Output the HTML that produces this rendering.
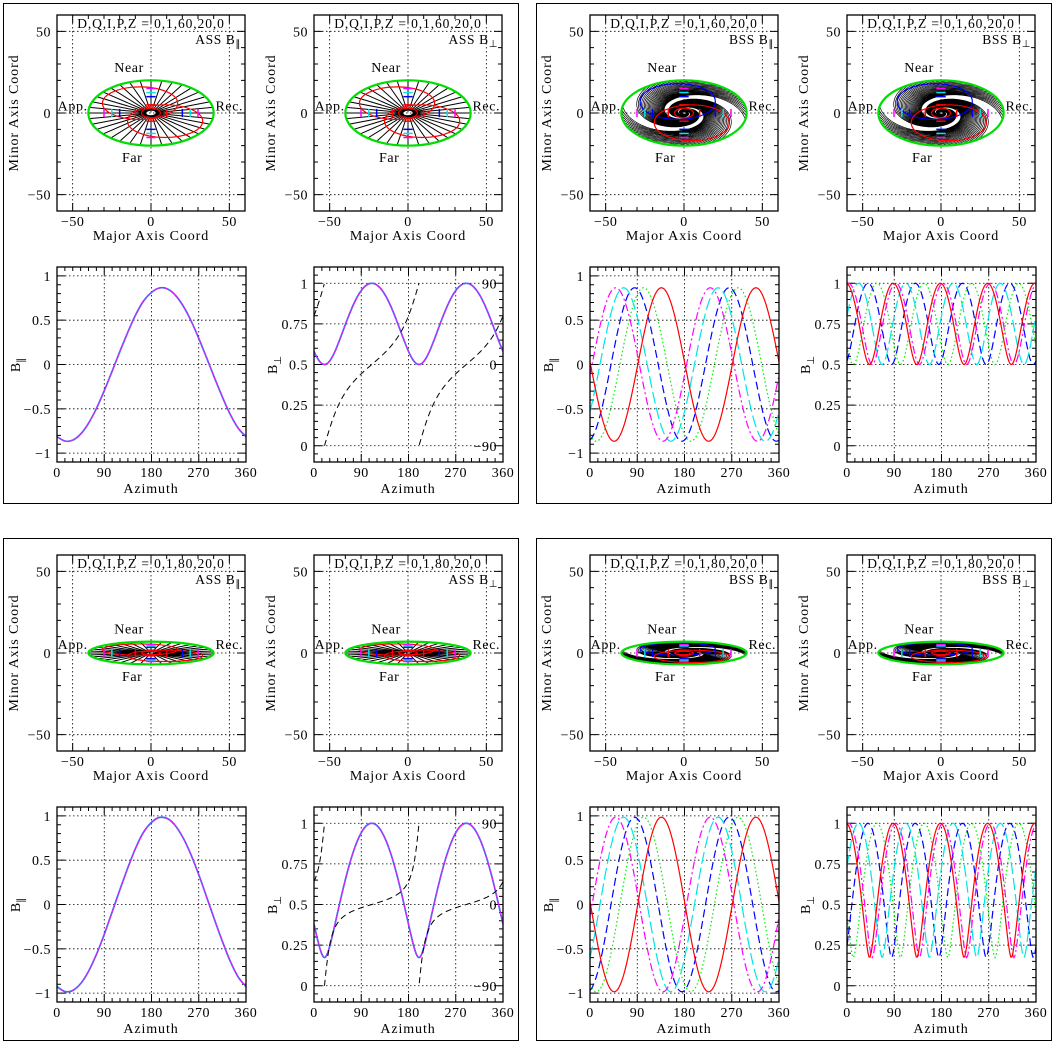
<!DOCTYPE html>
<html><head><meta charset="utf-8"><title>Magnetic field models</title>
<style>
html,body{margin:0;padding:0;background:#fff;}
svg{display:block;}
text{font-family:"Liberation Serif",serif;fill:#000;}
</style></head>
<body>
<svg id="chart" xmlns="http://www.w3.org/2000/svg" width="1053" height="1043" viewBox="0 0 1053 1043"></svg>
<script>
// ---- data ----
const inclinations = [60, 60, 80, 80];
const modelTypes = ['ASS', 'BSS', 'ASS', 'BSS'];
const azimuthTicks = [0, 90, 180, 270, 360];
const azimuthTickLabels = ['0', '90', '180', '270', '360'];
const bParTicks = [1, 0.5, 0, -0.5, -1];
const bParTickLabels = ['1', '0.5', '0', '\u22120.5', '\u22121'];
const bPerpTicks = [1, 0.75, 0.5, 0.25, 0];
const bPerpTickLabels = ['1', '0.75', '0.5', '0.25', '0'];
const angleTickLabels = ['90', '0', '\u221290'];
const mapTicks = [-50, 0, 50];
const mapTickLabels = ['\u221250', '0', '50'];
// ASS B-parallel samples every 15 deg (inclination 60, 80)
const assAz = [0,15,30,45,60,75,90,105,120,135,150,165,180,195,210,225,240,255,270,285,300,315,330,345,360];
const assParI60 = [-0.814,-0.863,-0.853,-0.785,-0.663,-0.497,-0.296,-0.075,0.150,0.366,0.563,0.718,0.814,0.863,0.853,0.785,0.663,0.497,0.296,0.075,-0.150,-0.366,-0.563,-0.718,-0.814];
const assParI80 = [-0.926,-0.982,-0.970,-0.893,-0.754,-0.565,-0.337,-0.085,0.171,0.416,0.640,0.817,0.926,0.982,0.970,0.893,0.754,0.565,0.337,0.085,-0.171,-0.416,-0.640,-0.817,-0.926];
// ASS B-perp: minimum azimuth (deg)
const assPerpMinAz = [20, 20];
// BSS series (red, green, blue, cyan, magenta): B-par peak azimuths, B-perp peak azimuths
const bssSeriesColors = ['#ff0000', '#00ee00', '#0000ff', '#00e5e5', '#ff00ff'];
const bssSeriesNames = ['red', 'green', 'blue', 'cyan', 'magenta'];
const bssParPeaks = [136, 102, 85, 64, 49];
const bssPerpPeaks = [88, 57, 40, 22, 3];

const NS = 'http://www.w3.org/2000/svg';
const svg = document.getElementById('chart');
function mk(tag, parent, attrs) {
  const e = document.createElementNS(NS, tag);
  for (const k in attrs) e.setAttribute(k, attrs[k]);
  parent.appendChild(e);
  return e;
}
function txt(parent, x, y, s, size, anchor, ls) {
  const t = mk('text', parent, {x: x, y: y, 'font-size': size, 'text-anchor': anchor || 'middle'});
  if (ls) t.setAttribute('letter-spacing', ls);
  t.textContent = s;
  return t;
}
function smoothD(pts) {
  let d = 'M' + pts[0][0].toFixed(2) + ',' + pts[0][1].toFixed(2);
  for (let i = 0; i < pts.length - 1; i++) {
    const p0 = pts[Math.max(0, i - 1)], p1 = pts[i], p2 = pts[i + 1], p3 = pts[Math.min(pts.length - 1, i + 2)];
    const c1 = [p1[0] + (p2[0] - p0[0]) / 6, p1[1] + (p2[1] - p0[1]) / 6];
    const c2 = [p2[0] - (p3[0] - p1[0]) / 6, p2[1] - (p3[1] - p1[1]) / 6];
    d += 'C' + c1[0].toFixed(2) + ',' + c1[1].toFixed(2) + ' ' + c2[0].toFixed(2) + ',' + c2[1].toFixed(2) + ' ' + p2[0].toFixed(2) + ',' + p2[1].toFixed(2);
  }
  return d;
}
function lineD(pts) {
  return pts.map((p, i) => (i ? 'L' : 'M') + p[0].toFixed(2) + ',' + p[1].toFixed(2)).join('');
}
let clipId = 0;

function makeAxes(g, x0, y0, w, h, xmin, xmax, ymin, ymax, xMinor, yMinor, xTicks, xLabels, yTicks, yLabels, xMajorStep, yMajorStep) {
  const sx = v => x0 + (v - xmin) / (xmax - xmin) * w;
  const sy = v => y0 + h - (v - ymin) / (ymax - ymin) * h;
  xTicks.forEach(v => {
    if (v > xmin && v < xmax) {
      const gl = mk('line', g, {x1: sx(v), x2: sx(v), y1: y0, y2: y0 + h, stroke: '#000', 'stroke-width': 0.8, 'stroke-dasharray': '1.5,2.5'});
      
      
    }
  });
  yTicks.forEach(v => {
    if (v > ymin && v < ymax) {
      const gl = mk('line', g, {x1: x0, x2: x0 + w, y1: sy(v), y2: sy(v), stroke: '#000', 'stroke-width': 0.8, 'stroke-dasharray': '1.5,2.5'});
      
      
    }
  });
  let d = '';
  const eps = 1e-6;
  for (let v = Math.ceil(xmin / xMinor - eps) * xMinor; v <= xmax + eps; v += xMinor) {
    const major = Math.abs(v / xMajorStep - Math.round(v / xMajorStep)) < 1e-6;
    const L = major ? 8 : 4;
    d += 'M' + sx(v) + ',' + (y0 + h) + 'v' + (-L) + 'M' + sx(v) + ',' + y0 + 'v' + L;
  }
  for (let v = Math.ceil(ymin / yMinor - eps) * yMinor; v <= ymax + eps; v += yMinor) {
    const major = Math.abs(v / yMajorStep - Math.round(v / yMajorStep)) < 1e-6;
    const L = major ? 8 : 4;
    d += 'M' + x0 + ',' + sy(v) + 'h' + L + 'M' + (x0 + w) + ',' + sy(v) + 'h' + (-L);
  }
  const tk = mk('path', g, {d: d, stroke: '#000', 'stroke-width': 1, fill: 'none'});
  
  
  xTicks.forEach((v, i) => {
    const t = txt(g, sx(v), y0 + h + 15, xLabels[i], 14, 'middle', 0.5);
    
    
  });
  yTicks.forEach((v, i) => {
    const t = txt(g, x0 - 6, sy(v) + 5, yLabels[i], 14, 'end', 0.5);
    
    
  });
  const cp = mk('clipPath', g, {id: 'cp' + (++clipId)});
  mk('rect', cp, {x: x0, y: y0, width: w, height: h});
  const plot = mk('g', g, {'clip-path': 'url(#cp' + clipId + ')'});
  
  
  return {sx, sy, plot, frame: () => {
    const fr = mk('rect', g, {x: x0, y: y0, width: w, height: h, fill: 'none', stroke: '#000', 'stroke-width': 1.3});
    
    
  }};
}

function bLabel(g, x, y, sub) {
  const t = mk('text', g, {x: x, y: y, 'font-size': 14, 'text-anchor': 'middle', transform: 'rotate(-90 ' + x + ' ' + y + ')'});
  const a = mk('tspan', t, {});
  a.textContent = 'B';
  const b = mk('tspan', t, {dy: 4, 'font-size': 10});
  b.textContent = sub;
  return t;
}

function mapPanel(x0, y0, inc, type, comp) {
  const g = mk('g', svg, {});
  
  
  const ax = makeAxes(g, x0, y0, 188, 196, -60, 60, -60, 60, 10, 10, mapTicks, mapTickLabels, mapTicks.slice().reverse(), mapTickLabels.slice().reverse(), 50, 50);
  const {sx, sy, plot} = ax;
  const ci = Math.cos(inc * Math.PI / 180);
  const clipE = 'cpE' + (++clipId);
  const ce = mk('clipPath', g, {id: clipE});
  mk('ellipse', ce, {cx: sx(0), cy: sy(0), rx: sx(40) - sx(0), ry: sy(0) - sy(40 * ci)});
  const inner = mk('g', plot, {'clip-path': 'url(#' + clipE + ')'});
  
  
  let d = '';
  if (type === 'ASS') {
    for (let k = 0; k < 36; k++) {
      const f = k * 10 * Math.PI / 180;
      const f2 = f - 0.35;
      d += 'M' + sx(3 * Math.cos(f2)) + ',' + sy(3 * Math.sin(f2) * ci) + 'L' + sx(6 * Math.cos(f)) + ',' + sy(6 * Math.sin(f) * ci) + 'L' + sx(42 * Math.cos(f)) + ',' + sy(42 * Math.sin(f) * ci);
    }
  } else {
    const k = Math.tan(20 * Math.PI / 180);
    const starts = [];
    for (let j = 0; j < 26; j++) { starts.push(j * 5.5); starts.push(180 + j * 5.5); }
    starts.forEach(s0 => {
      const t0 = s0 * Math.PI / 180;
      const pts = [];
      for (let t = 0; t <= 10.5; t += 0.06) {
        const r = 1.2 * Math.exp(k * t);
        const th = t0 - t;
        pts.push([sx(r * Math.cos(th)), sy(r * Math.sin(th) * ci)]);
      }
      d += lineD(pts);
    });
  }
  const fl = mk('path', inner, {d: d, stroke: '#000', 'stroke-width': type === 'ASS' ? 1 : 0.7, fill: 'none'});
  
  
  const rings = type === 'ASS'
    ? [[-7, 6, 24, 10, '#ff0000'], [9, -5, 24, 10, '#ff0000'], [0, 0, 6, 3, '#ff0000']]
    : [[-4, 7, 24, 11, '#0000ff'], [5, -6, 24, 11, '#ff0000'], [0, 0, 6, 3, '#ff0000']];
  rings.forEach(r => {
    const e = mk('ellipse', plot, {cx: sx(r[0]), cy: sy(r[1] * ci / 0.5), rx: sx(r[2]) - sx(0), ry: (sy(0) - sy(r[3])) * ci / 0.5, fill: 'none', stroke: r[4], 'stroke-width': 1.2});
    
    
  });
  const mk1 = [[10, '#ff0000'], [20, '#0000ff'], [25, '#00e5e5'], [30, '#ff00ff']];
  mk1.forEach(m => {
    [-1, 1].forEach(sg => {
      const a = mk('line', plot, {x1: sx(sg * m[0]), x2: sx(sg * m[0]), y1: sy(2.5), y2: sy(-2.5), stroke: m[1], 'stroke-width': 1.5});
      
      
      const b = mk('line', plot, {x1: sx(-3), x2: sx(3), y1: sy(sg * m[0] * ci), y2: sy(sg * m[0] * ci), stroke: m[1], 'stroke-width': 1.5});
      
      
    });
  });
  const el = mk('ellipse', plot, {cx: sx(0), cy: sy(0), rx: sx(40) - sx(0), ry: sy(0) - sy(40 * ci), fill: 'none', stroke: '#00dd00', 'stroke-width': 2.2});
  
  
  ax.frame();
  const ny = inc === 60 ? 25 : 12, fy = inc === 60 ? -30 : -17, ay = inc === 60 ? 1.5 : 2.5;
  const labels = [['Near', -14, ny, 'middle', 'near-label'], ['Far', -12, fy, 'middle', 'far-label'], ['App.', -50, ay, 'middle', 'approaching-label'], ['Rec.', 50, ay, 'middle', 'receding-label']];
  labels.forEach(l => {
    const t = txt(g, sx(l[1]), sy(l[2]), l[0], 14, l[3], 0.6);
    
    
  });
  const tt = txt(g, x0 + 94, y0 + 13, 'D,Q,I,P,Z = 0,1,' + inc + ',20,0', 13.5, 'middle', 0.9);
  
  
  const mt = mk('text', g, {x: x0 + 184, y: y0 + 29, 'font-size': 13.5, 'text-anchor': 'end', 'letter-spacing': 0.6});
  
  
  const s1 = mk('tspan', mt, {}); s1.textContent = type + ' B';
  const s2 = mk('tspan', mt, {dy: 3, 'font-size': 10}); s2.textContent = comp;
  const xl = txt(g, x0 + 94, y0 + 225, 'Major Axis Coord', 14, 'middle', 0.9);
  
  
  const yl = mk('text', g, {x: x0 - 39, y: y0 + 98, 'font-size': 14, 'text-anchor': 'middle', 'letter-spacing': 0.9, transform: 'rotate(-90 ' + (x0 - 39) + ' ' + (y0 + 98) + ')'});
  yl.textContent = 'Minor Axis Coord';
  
  
}

function azPanel(x0, y0, kind, q) {
  const g = mk('g', svg, {});
  
  
  const isPar = kind.indexOf('par') >= 0;
  const inc = inclinations[q];
  const s = Math.sin(inc * Math.PI / 180), c = Math.cos(inc * Math.PI / 180);
  const ax = isPar
    ? makeAxes(g, x0, y0, 189, 195, 0, 360, -1.1, 1.1, 15, 0.1, azimuthTicks, azimuthTickLabels, bParTicks, bParTickLabels, 90, 0.5)
    : makeAxes(g, x0, y0, 189, 195, 0, 360, -0.1, 1.1, 15, 0.05, azimuthTicks, azimuthTickLabels, bPerpTicks, bPerpTickLabels, 90, 0.25);
  const {sx, sy, plot} = ax;
  const az = [];
  for (let a = 0; a <= 360; a += 2) az.push(a);
  const rad = Math.PI / 180;
  if (kind === 'ass-par') {
    const vals = q < 2 ? assParI60 : assParI80;
    const pts = assAz.map((a, i) => [sx(a), sy(vals[i])]);
    [['#0000ff', 'blue', 1.6], ['#00e5e5', 'cyan', 1.3], ['#ff00ff', 'magenta', 0.9]].forEach(cl => {
      const p = mk('path', plot, {d: smoothD(pts), stroke: cl[0], 'stroke-width': cl[2], fill: 'none'});
      
      
    });
  } else if (kind === 'ass-perp') {
    const m = assPerpMinAz[q < 2 ? 0 : 1];
    const pts = az.map(a => [sx(a), sy(Math.sqrt(c * c + s * s * Math.pow(Math.sin((a - m) * rad), 2)))]);
    [['#0000ff', 'blue', 1.6], ['#00e5e5', 'cyan', 1.3], ['#ff00ff', 'magenta', 0.9]].forEach(cl => {
      const p = mk('path', plot, {d: lineD(pts), stroke: cl[0], 'stroke-width': cl[2], fill: 'none'});
      
      
    });
    let d = '', prev = null;
    for (let a = 0; a <= 360; a += 0.5) {
      const dd = (a - m - 90) * rad;
      const ang = Math.atan(Math.tan(dd) * c) / Math.PI + 0.5;
      if (prev === null || Math.abs(ang - prev) > 0.5) d += 'M'; else d += 'L';
      d += sx(a).toFixed(2) + ',' + sy(ang).toFixed(2);
      prev = ang;
    }
    const p = mk('path', plot, {d: d, stroke: '#000', 'stroke-width': 1, fill: 'none', 'stroke-dasharray': '6,4'});
    
    
    angleTickLabels.forEach((l, i) => {
      const t = txt(g, x0 + 183, sy([1, 0.5, 0][i]) + 5, l, 14, 'end', 0.5);
      
      
    });
  } else {
    const dashes = ['none', '1.5,2.5', '8,4', '12,4', '8,3,2,3'];
    const order = [1, 2, 3, 4, 0];
    order.forEach(i => {
      let pts;
      if (isPar) pts = az.map(a => [sx(a), sy(s * Math.cos(2 * (a - bssParPeaks[i]) * rad))]);
      else pts = az.map(a => [sx(a), sy(Math.sqrt(c * c + s * s * Math.pow(Math.cos(2 * (a - bssPerpPeaks[i]) * rad), 2)))]);
      const p = mk('path', plot, {d: lineD(pts), stroke: bssSeriesColors[i], 'stroke-width': 1.2, fill: 'none', 'stroke-dasharray': dashes[i]});
      
      
    });
  }
  ax.frame();
  const xl = txt(g, x0 + 94, y0 + 226, 'Azimuth', 14, 'middle', 0.9);
  
  
  const yl = bLabel(g, x0 - 37, y0 + 98, isPar ? '\u2225' : '\u22a5');
  
  
}

for (let q = 0; q < 4; q++) {
  const qx = (q % 2) * 533, qy = Math.floor(q / 2) * 540;
  const fr = mk('rect', svg, {x: 3.5 + qx, y: (q < 2 ? 3.5 : 538.5), width: 515, height: (q < 2 ? 500 : 502), fill: 'none', stroke: '#000', 'stroke-width': 1});
  
  
  const type = modelTypes[q], inc = inclinations[q];
  mapPanel(57 + qx, 15 + qy, inc, type, '\u2225');
  mapPanel(314 + qx, 15 + qy, inc, type, '\u22a5');
  azPanel(57 + qx, 267 + qy, type.toLowerCase() + '-par', q);
  azPanel(314 + qx, 267 + qy, type.toLowerCase() + '-perp', q);
}
</script>
</body></html>
